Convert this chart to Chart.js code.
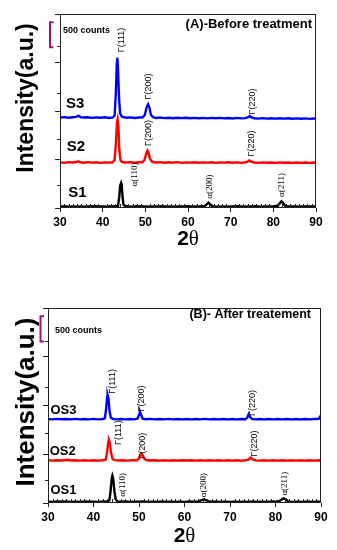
<!DOCTYPE html>
<html>
<head>
<meta charset="utf-8">
<script src="https://cdn.jsdelivr.net/npm/chart.js@4.4.1/dist/chart.umd.min.js"></script>
<style>
  html, body { margin: 0; padding: 0; background: #fff; }
  body { width: 337px; height: 550px; position: relative; overflow: hidden; }
  canvas { position: absolute; left: 0; }
  #c1 { top: 0; }
  #c2 { top: 270px; }
</style>
</head>
<body>
<canvas id="c1" width="337" height="250"></canvas>
<canvas id="c2" width="337" height="280"></canvas>
<script>
// ---------- DATA (2θ, counts) ----------
const xTickLabels = ['30', '40', '50', '60', '70', '80', '90'];

// Panel A - before treatment
const s1 = [[30,30],[31,38],[32,28],[33,35],[34,30],[35,36],[36,29],[37,34],[38,40],[39,31],[40,36],[41,30],[42,38],[43,36],[43.6,45],[43.9,250],[44.1,480],[44.3,535],[44.5,450],[44.7,200],[44.9,70],[45.3,42],[46,35],[47,30],[48,37],[49,31],[50,35],[51,29],[52,36],[53,32],[54,38],[55,30],[56,35],[57,29],[58,36],[59,31],[60,37],[61,30],[62,35],[63,33],[64,45],[64.5,90],[64.8,115],[65.1,88],[65.6,45],[66,36],[67,30],[68,36],[69,30],[70,35],[71,31],[72,37],[73,30],[74,35],[75,32],[76,37],[77,30],[78,34],[79,31],[80,38],[81,48],[81.6,110],[81.9,145],[82.2,118],[82.7,55],[83.2,38],[84,32],[85,36],[86,29],[87,35],[88,31],[89,36],[90,33]];
const s2 = [[30,990],[31,978],[32,992],[33,984],[33.8,995],[34.3,1012],[34.8,990],[35.5,980],[36.5,992],[37.5,983],[38.5,990],[39.5,978],[40.5,988],[41.5,982],[42.3,990],[42.8,1040],[43.1,1400],[43.35,1850],[43.5,1920],[43.7,1750],[43.9,1250],[44.2,1030],[44.6,995],[45.5,985],[46.5,992],[47.5,980],[48.5,990],[49.3,990],[49.8,1040],[50.2,1170],[50.5,1240],[50.8,1180],[51.1,1060],[51.6,1000],[52.5,985],[53.5,992],[54.5,980],[55.5,990],[56.5,982],[57.5,992],[58.5,978],[59.5,988],[60.5,982],[61.5,990],[62.5,980],[63.5,988],[64.5,982],[65.5,990],[66.5,978],[67.5,988],[68.5,982],[69.5,990],[70.5,980],[71.5,987],[72.5,978],[73.5,990],[74.1,1010],[74.4,1030],[74.8,1005],[75.5,985],[76.5,978],[77.5,988],[78.5,980],[79.5,986],[80.5,978],[81.5,988],[82.5,980],[83.5,986],[84.5,976],[85.5,985],[86.5,978],[87.5,986],[88.5,978],[89.5,984],[90,980]];
const s3 = [[30,1960],[31,1968],[32,1955],[33,1966],[33.8,1972],[34.3,2000],[34.8,1968],[35.5,1958],[36.5,1966],[37.5,1952],[38.5,1962],[39.5,1955],[40.5,1964],[41.5,1950],[42.4,1960],[42.8,2000],[43.1,2500],[43.3,3100],[43.45,3254],[43.6,3000],[43.85,2350],[44.1,2050],[44.5,1975],[45.5,1955],[46.5,1962],[47.5,1948],[48.5,1958],[49.4,1962],[49.9,2020],[50.3,2180],[50.65,2245],[51.0,2160],[51.3,2020],[51.8,1965],[52.5,1950],[53.5,1958],[54.5,1946],[55.5,1955],[56.5,1944],[57.5,1954],[58.5,1946],[59.5,1955],[60.5,1942],[61.5,1952],[62.5,1944],[63.5,1950],[64.5,1940],[65.5,1950],[66.5,1942],[67.5,1952],[68.5,1940],[69.5,1948],[70.5,1938],[71.5,1950],[72.5,1940],[73.5,1946],[74.1,1965],[74.5,1990],[74.9,1960],[75.5,1944],[76.5,1936],[77.5,1946],[78.5,1936],[79.5,1944],[80.5,1934],[81.5,1944],[82.5,1934],[83.5,1942],[84.5,1932],[85.5,1940],[86.5,1932],[87.5,1940],[88.5,1930],[89.5,1938],[90,1935]];

// Panel B - after treatment
const os1 = [[30,30],[31,24],[32,32],[33,26],[34,31],[35,24],[36,30],[37,25],[38,32],[39,26],[40,30],[41,24],[42,31],[43,30],[43.5,60],[43.8,300],[44.0,530],[44.15,589],[44.35,520],[44.6,250],[44.9,70],[45.3,35],[46,28],[47,32],[48,25],[49,30],[50,26],[51,32],[52,25],[53,30],[54,24],[55,31],[56,25],[57,29],[58,24],[59,30],[60,25],[61,31],[62,26],[63,34],[63.8,60],[64.3,80],[64.8,58],[65.4,32],[66,26],[67,30],[68,24],[69,30],[70,25],[71,29],[72,24],[73,30],[74,25],[75,31],[76,24],[77,30],[78,25],[79,31],[80,28],[80.9,45],[81.5,85],[81.8,100],[82.2,80],[82.7,40],[83.3,28],[84,24],[85,30],[86,25],[87,31],[88,24],[89,30],[90,26]];
const os2 = [[30,920],[31,912],[32,922],[33,914],[34,925],[34.5,930],[35,915],[36,922],[37,912],[38,920],[39,913],[40,922],[41,912],[42,920],[42.7,935],[43.0,1100],[43.25,1320],[43.4,1353],[43.6,1300],[43.85,1080],[44.2,950],[44.7,922],[45.5,914],[46.5,922],[47.5,912],[48.5,920],[49.5,918],[50.0,960],[50.35,1045],[50.55,1065],[50.8,1030],[51.1,960],[51.6,925],[52.5,914],[53.5,922],[54.5,912],[55.5,920],[56.5,913],[57.5,921],[58.5,912],[59.5,920],[60.5,914],[61.5,921],[62.5,912],[63.5,920],[64.5,913],[65.5,921],[66.5,912],[67.5,920],[68.5,913],[69.5,921],[70.5,912],[71.5,920],[72.5,913],[73.5,920],[74.1,940],[74.55,979],[75.0,940],[75.6,918],[76.5,912],[77.5,920],[78.5,912],[79.5,920],[80.5,913],[81.5,921],[82.5,912],[83.5,920],[84.5,913],[85.5,921],[86.5,912],[87.5,920],[88.5,913],[89.5,920],[90,916]];
const os3 = [[30,1810],[31,1802],[32,1812],[33,1803],[34,1810],[35,1801],[36,1811],[37,1802],[38,1810],[39,1801],[40,1811],[41,1802],[42,1810],[42.5,1825],[42.8,2050],[43.0,2290],[43.1,2327],[43.3,2250],[43.5,2000],[43.8,1840],[44.3,1810],[45,1802],[46,1810],[47,1801],[48,1810],[49,1802],[49.7,1820],[50.0,1900],[50.2,1966],[50.45,1900],[50.8,1818],[51.5,1805],[52.5,1811],[53.5,1801],[54.5,1810],[55.5,1802],[56.5,1811],[57.5,1801],[58.5,1810],[59.5,1802],[60.5,1810],[61.5,1801],[62.5,1810],[63.5,1802],[64.5,1811],[65.5,1801],[66.5,1810],[67.5,1802],[68.5,1810],[69.5,1801],[70.5,1810],[71.5,1802],[72.5,1809],[73.4,1805],[73.8,1840],[74.1,1916],[74.4,1850],[74.8,1810],[75.5,1802],[76.5,1810],[77.5,1801],[78.5,1809],[79.5,1801],[80.5,1810],[81.5,1802],[82.5,1809],[83.5,1801],[84.5,1810],[85.5,1802],[86.5,1809],[87.5,1801],[88.5,1809],[89.5,1815],[89.8,1850],[90,1894]];

// Series names
const namesA = ['S1', 'S2', 'S3'];
const namesB = ['OS1', 'OS2', 'OS3'];

// Peak annotations: [text, 2θ, counts]
const peaksA = [
  ['Γ(111)', 44.5, 3637], ['Γ(200)', 50.86, 2630], ['Γ(220)', 75.2, 2306],
  ['Γ(200)', 50.86, 1624], ['Γ(220)', 74.8, 1396],
  ['α(110)', 47.6, 725], ['α(200)', 65.0, 461], ['α(211)', 82.0, 498]
];
const peaksB = [
  ['Γ(111)', 44.17, 2620], ['Γ(200)', 50.6, 2252], ['Γ(220)', 75.0, 2154],
  ['Γ(111)', 45.6, 1515], ['Γ(200)', 50.8, 1234], ['Γ(220)', 75.3, 1282],
  ['α(110)', 46.4, 390], ['α(200)', 64.25, 385], ['α(211)', 82.1, 416]
];
// Series label anchors: [2θ, counts] (left aligned)
const nameAnchorsA = [[31.95, 325], [31.57, 1327], [31.4, 2252]];
const nameAnchorsB = [[30.53, 271], [30.37, 1115], [30.53, 1992]];

// ---------- RENDERING ----------
const SANS = "'Liberation Sans', Arial, sans-serif";
const SERIF = "'Liberation Serif', 'Times New Roman', serif";
const colors = ['#000000', '#ff0000', '#0000ff'];

function toXY(arr) { return arr.map(p => ({ x: p[0], y: p[1] })); }

function makeDecor(cfg) {
  return {
    id: 'decor',
    afterDraw(chart) {
      const ctx = chart.ctx, a = chart.chartArea;
      const xs = chart.scales.x, ys = chart.scales.y;
      ctx.save();
      // frame
      ctx.strokeStyle = '#222'; ctx.lineWidth = 1;
      ctx.strokeRect(Math.round(a.left) + 0.5, Math.round(a.top) + 0.5,
                     Math.round(a.right - a.left) - 1, Math.round(a.bottom - a.top) - 1);
      // minor x ticks (inside)
      ctx.beginPath();
      for (let v = 31; v < 90; v++) {
        if (v % 10 === 0) continue;
        const px = Math.round(xs.getPixelForValue(v)) + 0.5;
        ctx.moveTo(px, a.bottom - 1); ctx.lineTo(px, a.bottom - 4);
      }
      // minor y ticks (outside)
      for (let v = 500; v < 4200; v += 1000) {
        const py = Math.round(ys.getPixelForValue(v)) + 0.5;
        ctx.moveTo(a.left, py); ctx.lineTo(a.left - 3, py);
      }
      ctx.stroke();

      ctx.fillStyle = '#000';
      // y title
      ctx.save();
      ctx.translate(cfg.yTitle.x, cfg.yTitle.y); ctx.rotate(-Math.PI / 2);
      ctx.font = 'bold ' + cfg.yTitle.size + 'px ' + SANS;
      ctx.textAlign = 'center'; ctx.textBaseline = 'middle';
      ctx.fillText('Intensity(a.u.)', 0, 0);
      ctx.restore();

      // x title 2θ
      const cx = (a.left + a.right) / 2;
      ctx.textBaseline = 'middle';
      ctx.font = 'bold 21px ' + SANS;
      const w2 = ctx.measureText('2').width;
      ctx.font = '21px ' + SERIF;
      const wt = ctx.measureText('θ').width;
      const startX = cx - (w2 + wt) / 2;
      ctx.textAlign = 'left';
      ctx.font = 'bold 21px ' + SANS;
      ctx.fillText('2', startX, cfg.xTitleY);
      ctx.font = '21px ' + SERIF;
      ctx.fillText('θ', startX + w2, cfg.xTitleY);

      // panel title
      ctx.font = 'bold ' + cfg.title.size + 'px ' + SANS;
      ctx.textAlign = 'right';
      ctx.fillText(cfg.title.text, cfg.title.x, cfg.title.y);

      // 500 counts + bracket
      ctx.font = 'bold 9px ' + SANS;
      ctx.textAlign = 'left';
      ctx.fillText('500 counts', cfg.counts.x, cfg.counts.y);
      const yb1 = ys.getPixelForValue(4000), yb0 = ys.getPixelForValue(3500);
      ctx.strokeStyle = '#a0107e'; ctx.lineWidth = 2;
      ctx.beginPath();
      ctx.moveTo(cfg.bracket.x1, yb1 - 1);
      ctx.lineTo(cfg.bracket.x0, yb1 - 1);
      ctx.lineTo(cfg.bracket.x0, yb0 + 1);
      ctx.lineTo(cfg.bracket.x1, yb0 + 1);
      ctx.stroke();

      // series names
      ctx.font = 'bold ' + cfg.nameSize + 'px ' + SANS;
      ctx.textAlign = 'left'; ctx.textBaseline = 'middle';
      cfg.names.forEach((n, i) => {
        const p = cfg.nameAnchors[i];
        ctx.fillText(n, xs.getPixelForValue(p[0]), ys.getPixelForValue(p[1]));
      });

      // peak labels (rotated)
      cfg.peaks.forEach(p => {
        ctx.save();
        ctx.translate(xs.getPixelForValue(p[1]), ys.getPixelForValue(p[2]));
        ctx.rotate(-Math.PI / 2);
        ctx.font = '9px ' + (p[0][0] === 'α' ? SERIF : SANS);
        ctx.textAlign = 'center'; ctx.textBaseline = 'middle';
        ctx.fillText(p[0], 0, 0);
        ctx.restore();
      });
      ctx.restore();
    }
  };
}

function makeChart(id, series, geom, cfg) {
  return new Chart(document.getElementById(id), {
    type: 'line',
    data: {
      datasets: series.map((s, i) => ({
        data: toXY(s),
        borderColor: colors[i],
        borderWidth: 2.4,
        pointRadius: 0,
        tension: 0,
        fill: false
      }))
    },
    options: {
      responsive: false,
      animation: false,
      devicePixelRatio: 1,
      layout: { padding: { left: 0, right: geom.right, top: geom.top, bottom: 0 } },
      plugins: { legend: { display: false }, tooltip: { enabled: false } },
      scales: {
        x: {
          type: 'linear', min: 30, max: 90,
          afterFit(s) { s.height = geom.xh; },
          ticks: {
            stepSize: 10, padding: 3, color: '#000',
            font: { family: SANS, size: 12, weight: 'bold' },
            callback: (v) => { const i = xTickLabels.indexOf(String(v)); return i >= 0 ? xTickLabels[i] : ''; },
            maxRotation: 0, autoSkip: false
          },
          grid: { display: true, drawOnChartArea: false, drawTicks: true, tickLength: 4, color: '#222', lineWidth: 1 },
          border: { display: false }
        },
        y: {
          type: 'linear', min: 0, max: 4200,
          afterFit(s) { s.width = geom.yw; },
          ticks: { stepSize: 1000, display: false },
          grid: { display: true, drawOnChartArea: false, drawTicks: true, tickLength: 5, color: '#222', lineWidth: 1 },
          border: { display: false }
        }
      }
    },
    plugins: [makeDecor(cfg)]
  });
}

makeChart('c1', [s1, s2, s3], { right: 21, top: 14, xh: 42, yw: 60 }, {
  yTitle: { x: 27, y: 98, size: 23 },
  xTitleY: 239,
  title: { text: '(A)-Before treatment', x: 312, y: 24, size: 13 },
  counts: { x: 63, y: 31 },
  bracket: { x0: 50, x1: 53.5 },
  names: namesA, nameAnchors: nameAnchorsA, nameSize: 15,
  peaks: peaksA
});

makeChart('c2', [os1, os2, os3], { right: 16, top: 38, xh: 47, yw: 48 }, {
  yTitle: { x: 27, y: 132, size: 26 },
  xTitleY: 266.5,
  title: { text: '(B)- After treatement', x: 311, y: 45, size: 12.5 },
  counts: { x: 55, y: 60.7 },
  bracket: { x0: 40.5, x1: 44 },
  names: namesB, nameAnchors: nameAnchorsB, nameSize: 13,
  peaks: peaksB
});
</script>
</body>
</html>
